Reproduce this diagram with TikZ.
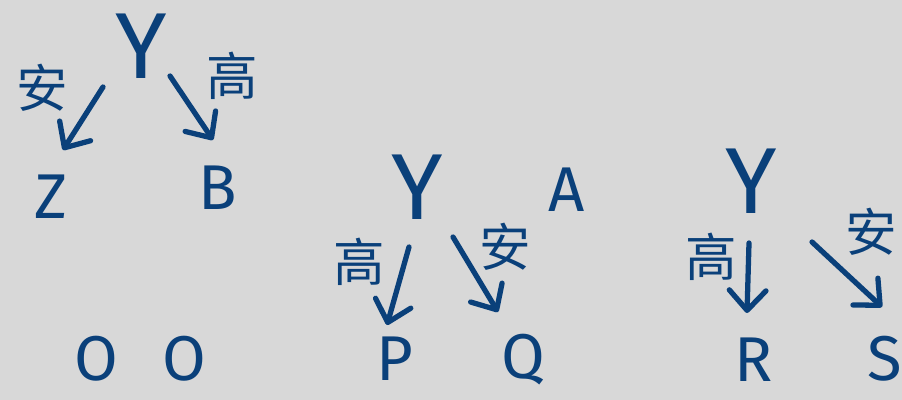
\documentclass[tikz,border=0pt]{standalone}
\usepackage{fontspec}
\setmainfont{Fira Sans}
\newfontfamily\cjk{Noto Sans CJK SC}
\usetikzlibrary{arrows.meta,calc}
\definecolor{ink}{RGB}{10,64,122}
\definecolor{bg}{RGB}{216,216,216}
\begin{document}
\begin{tikzpicture}[x=0.03cm,y=-0.03cm,
  letter/.style={inner sep=0pt,text=ink,font=\fontsize{54}{54}\selectfont},
  bigY/.style={inner sep=0pt,text=ink,font=\fontsize{80}{80}\selectfont},
  lab/.style={inner sep=0pt,text=ink,font=\cjk\fontsize{44}{44}\selectfont},
  arr/.style={draw=ink,line width=4.5pt,line cap=round,line join=round,
    -{Straight Barb[length=6mm,width=11mm,line cap=round,line join=round]}}]
\fill[bg] (0,0) rectangle (902,400);
\path[use as bounding box] (0,0) rectangle (902,400);
% group 1
\node[bigY] (Y1) at (141,46) {Y};
\node[letter] (Z) at (51,197) {Z};
\node[letter] (B) at (218,188) {B};
\node[lab] (l1) at (42,88) {安};
\node[lab] (l2) at (232,76) {高};
\draw[arr] ($(Y1)+(-38,41)$) -- ($(Z)+(12,-47)$);
\draw[arr] ($(Y1)+(29,30)$) -- ($(B)+(-5,-48)$);
% O O
\node[letter] (O1) at (96,359) {O};
\node[letter] (O2) at (184,359) {O};
% group 2
\node[bigY] (Y2) at (417,187) {Y};
\node[letter] (A) at (567,190) {A};
\node[letter] (P) at (395,359) {P};
\node[letter] (Q) at (523,360) {Q};
\node[lab] (l3) at (359,262) {高};
\node[lab] (l4) at (505,247) {安};
\draw[arr] ($(Y2)+(-8,60)$) -- ($(P)+(-8,-34)$);
\draw[arr] ($(Y2)+(36,50)$) -- ($(Q)+(-25,-48)$);
% group 3
\node[bigY] (Y3) at (751,181) {Y};
\node[letter] (R) at (754,360) {R};
\node[letter] (S) at (885,359) {S};
\node[lab] (l5) at (711,257) {高};
\node[lab] (l6) at (871,232) {安};
\draw[arr] ($(Y3)+(-2,62)$) -- ($(R)+(-7,-47)$);
\draw[arr] ($(Y3)+(61,61)$) -- ($(S)+(-3,-52)$);
\end{tikzpicture}
\end{document}
